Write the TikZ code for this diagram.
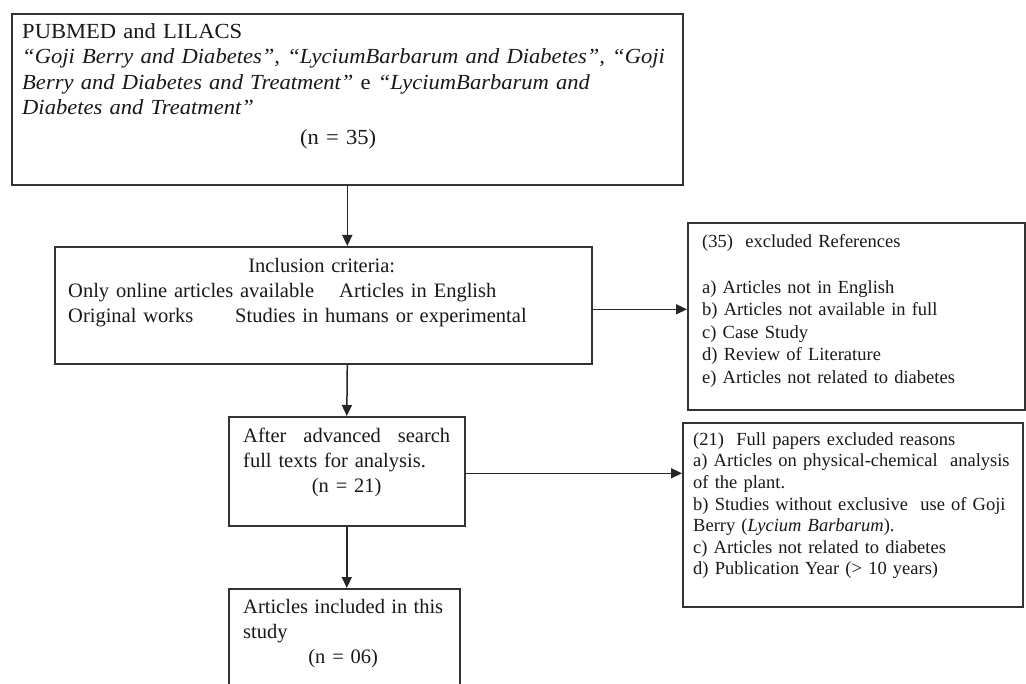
\documentclass[tikz,border=0pt]{standalone}
\usepackage{fontspec}
\setmainfont{Liberation Serif}
\newfontfamily\srchfont[FakeStretch=1.05]{Liberation Serif}
\usepackage{tikz}
\usetikzlibrary{arrows.meta}

\tikzset{
  box/.style={draw=black!80, line width=1.6pt, inner sep=0pt, anchor=north west},
  txt/.style={inner sep=0pt, anchor=north west, align=left, text=black!90},
  mainfont/.style={font=\fontsize{20.5}{25}\selectfont},
  sidefont/.style={font=\fontsize{18.5}{22.5}\selectfont},
  flow/.style={draw=black!85, line width=1.5pt, -{Triangle[length=11pt,width=10pt]}}
}

\begin{document}
\begin{tikzpicture}[x=1pt,y=-1pt]
  \useasboundingbox (0,0) rectangle (1026,684);
  \clip (0,0) rectangle (1026,684);
  \fill[white] (0,0) rectangle (1026,684);
  % boxes
  \node[box, minimum width=671pt, minimum height=171pt] (srch) at (11,13) {};
  \node[box, minimum width=537pt, minimum height=117pt] (incl) at (54,246) {};
  \node[box, minimum width=236pt, minimum height=109pt] (full) at (228,416) {};
  \node[box, minimum width=231pt, minimum height=112pt] (art) at (228,588) {};
  \node[box, minimum width=337pt, minimum height=187pt] (excl) at (687,222) {};
  \node[box, minimum width=340pt, minimum height=184pt] (fexcl) at (682,422) {};
  % texts
  \node[txt, text width=650pt, font=\srchfont\fontsize{21.5}{25.5}\selectfont] (srchtxt) at (22,20.2)
    {\strut PUBMED and LILACS\\
     \textit{“Goji Berry and Diabetes”, “LyciumBarbarum and Diabetes”, “Goji}\\
     \textit{Berry and Diabetes and Treatment”} e \textit{“LyciumBarbarum and}\\
     \textit{Diabetes and Treatment”}\\[4pt]
     \makebox[632pt]{(n = 35)}};
  \node[txt, mainfont, text width=507pt] (incltxt) at (68,254.5)
    {\strut\makebox[507pt]{Inclusion criteria:}\\
     \makebox[271pt][l]{Only online articles available}Articles in English\\
     \makebox[167pt][l]{Original works}Studies in humans or experimental};
  \node[txt, mainfont, text width=207pt] (fulltxt) at (243,424.5)
    {\strut After\hfill advanced\hfill search\\
     full texts for analysis.\\
     \hspace*{\fill}(n = 21)\hspace*{\fill}};
  \node[txt, mainfont, text width=200pt] (arttxt) at (243,595.5)
    {\strut Articles\hfill included\hfill in\hfill this\\
     study\\
     \hspace*{\fill}(n = 06)\hspace*{\fill}};
  \node[txt, sidefont, text width=310pt] (excltxt) at (702,231.25)
    {\strut (35)\ \ excluded References\\[23.5pt]
     a) Articles not in English\\
     b) Articles not available in full\\
     c) Case Study\\
     d) Review of Literature\\
     e) Articles not related to diabetes};
  \node[txt, font=\fontsize{18.5}{21.6}\selectfont, text width=325pt] (fexcltxt) at (693,429.9)
    {\strut (21)\ \ Full papers excluded reasons\\
     a) Articles on physical-chemical\ \ analysis\\
     of the plant.\\
     b) Studies without exclusive\ \ use of Goji\\
     Berry (\textit{Lycium Barbarum}).\\
     c) Articles not related to diabetes\\
     d) Publication Year (> 10 years)};
  % arrows
  \draw[flow] (srch.south) -- (srch.south |- incl.north);
  \draw[flow] ([yshift=-4pt]incl.east) -- ([yshift=-4pt]incl.east -| excl.west);
  \draw[flow] (srch.south |- incl.south) -- (full.north);
  \draw[flow] ([yshift=-2pt]full.east) -- ([yshift=-2pt]full.east -| fexcl.west);
  \draw[flow] (full.south) -- (full.south |- art.north);
\end{tikzpicture}
\end{document}
